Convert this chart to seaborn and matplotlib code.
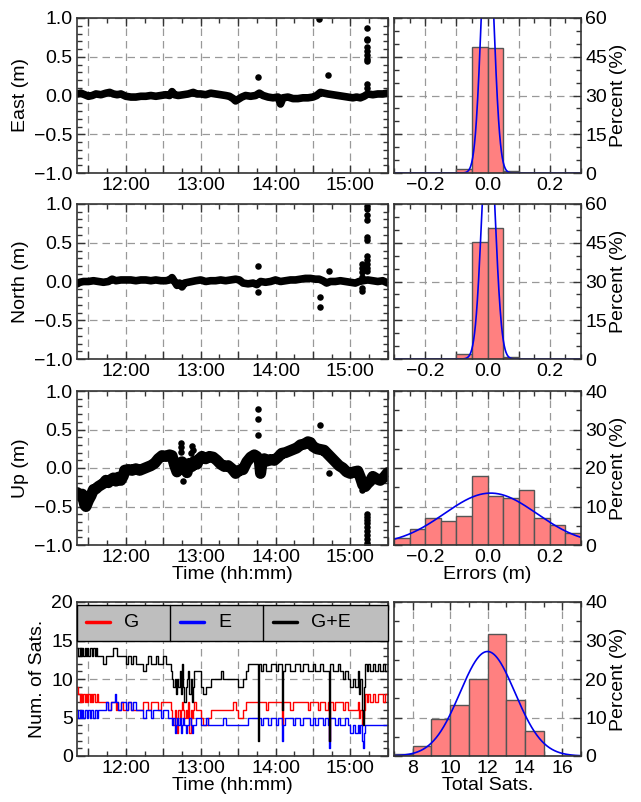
import numpy as np
import matplotlib
matplotlib.use("Agg")
import matplotlib.pyplot as plt
import matplotlib.ticker as mticker
import matplotlib.transforms as mtransforms
from matplotlib.patches import Rectangle
import seaborn as sns

# ---- position errors (time in minutes after 11:00, value in m) ----
east_t = [21, 24, 27, 30, 33, 36, 40, 44, 47, 50,
          53, 56, 60, 64, 68, 72, 76, 80, 84, 88,
          92, 95, 97, 99, 102, 106, 110, 114, 117, 120,
          124, 128, 132, 136, 140, 143, 146, 148, 150, 153,
          156, 160, 164, 167, 170, 174, 178, 182, 184, 186,
          190, 194, 198, 202, 206, 210, 213, 216, 219, 222,
          226, 230, 234, 238, 242, 245, 248, 251, 254, 258,
          262, 266, 270]
east_v = [0.02, 0.03, 0.01, -0.01, 0.0, 0.02, 0.01, 0.03, 0.04, 0.02,
          0.01, 0.02, -0.01, -0.02, -0.02, -0.01, -0.01, 0.0, -0.01, 0.0,
          0.01, 0.0, 0.05, 0.01, 0.0, 0.01, 0.02, 0.04, 0.02, 0.02,
          0.01, 0.03, 0.02, 0.01, 0.0, -0.01, -0.04, -0.07, -0.05, -0.02,
          0.0, -0.01, 0.0, 0.03, 0.0, -0.02, -0.03, -0.02, -0.11, -0.03,
          -0.02, -0.04, -0.04, -0.03, -0.03, -0.02, 0.0, 0.04, 0.03, 0.02,
          0.01, 0.0, -0.01, -0.02, -0.03, -0.02, -0.03, -0.01, 0.02, 0.01,
          0.02, 0.02, 0.03]
east_out_t = [166, 215, 222, 253, 253, 253, 253, 253, 253, 253, 253, 253, 253]
east_out_v = [0.245, 0.99, 0.26, 0.87, 0.73, 0.71, 0.62, 0.57, 0.52, 0.47, 0.44, 0.15, 0.10]

north_t = [21, 23, 26, 30, 34, 38, 42, 46, 49, 52,
           56, 60, 64, 68, 72, 76, 80, 84, 88, 92,
           95, 97, 99, 101, 103, 105, 107, 110, 113, 116,
           120, 124, 128, 132, 136, 140, 144, 148, 151, 154,
           158, 162, 165, 168, 172, 176, 180, 184, 188, 192,
           196, 200, 204, 208, 212, 215, 218, 221, 224, 228,
           232, 236, 240, 244, 247, 250, 254, 258, 262, 266,
           270]
north_v = [-0.03, -0.01, 0.0, 0.0, 0.01, 0.0, -0.01, 0.0, 0.03, 0.01,
           0.02, 0.02, 0.02, 0.01, 0.02, 0.02, 0.01, 0.02, 0.01, 0.01,
           0.02, 0.05, 0.0, -0.05, -0.02, -0.07, -0.02, -0.01, 0.0, 0.01,
           0.02, 0.0, 0.01, 0.01, 0.02, 0.01, 0.02, 0.03, 0.02, -0.02,
           -0.03, -0.02, -0.04, 0.0, -0.01, 0.0, 0.02, 0.0, 0.01, 0.02,
           0.02, 0.03, 0.04, 0.04, 0.03, 0.03, 0.01, -0.02, 0.0, 0.0,
           0.01, 0.0, -0.01, -0.02, 0.0, 0.01, 0.02, 0.01, 0.0, 0.01,
           -0.02]
north_out_t = [166, 166, 216, 216, 223, 249, 249, 249, 249, 249, 249,
               253, 253, 253, 253, 253, 253, 253, 253, 253, 253, 253]
north_out_v = [0.20, -0.14, -0.20, -0.33, 0.14, 0.23, 0.18, 0.12, 0.06, -0.08, -0.12,
               0.97, 0.94, 0.86, 0.79, 0.58, 0.54, 0.33, 0.28, 0.22, 0.17, 0.13]

up_t = [21, 23, 25, 27, 28, 30, 32, 34, 36, 38,
        40, 42, 44, 46, 48, 50, 52, 54, 56, 58,
        59, 62, 65, 68, 71, 74, 77, 80, 83, 86,
        89, 92, 95, 97, 99, 101, 103, 105, 107, 109,
        111, 113, 115, 117, 119, 121, 124, 127, 130, 133,
        136, 139, 142, 145, 148, 151, 154, 157, 160, 163,
        165, 167, 168, 169, 171, 173, 176, 179, 182, 185,
        188, 191, 194, 197, 200, 203, 206, 208, 210, 213,
        216, 219, 222, 225, 228, 231, 234, 237, 240, 243,
        246, 248, 250, 252, 254, 256, 258, 261, 264, 267,
        270]
up_v = [-0.32, -0.36, -0.34, -0.48, -0.50, -0.42, -0.36, -0.28, -0.27, -0.24,
        -0.22, -0.20, -0.16, -0.19, -0.15, -0.13, -0.17, -0.12, -0.16, -0.10,
        -0.03, -0.02, -0.03, -0.01, -0.03, -0.01, 0.01, 0.03, 0.06, 0.12,
        0.16, 0.15, 0.17, 0.16, 0.04, -0.05, 0.02, 0.08, 0.0, -0.06,
        0.06, 0.02, 0.09, 0.05, 0.12, 0.15, 0.12, 0.15, 0.14, 0.10,
        0.05, 0.02, 0.03, -0.01, -0.07, -0.03, -0.02, 0.08, 0.14, 0.17,
        0.15, 0.10, -0.07, 0.05, 0.12, 0.09, 0.11, 0.10, 0.14, 0.19,
        0.20, 0.22, 0.24, 0.26, 0.30, 0.31, 0.34, 0.33, 0.28, 0.25,
        0.24, 0.23, 0.18, 0.13, 0.08, 0.03, 0.0, -0.05, -0.07, -0.05,
        -0.04, -0.12, -0.22, -0.24, -0.20, -0.17, -0.11, -0.14, -0.16, -0.12,
        -0.06]
up_out_t = [104, 104, 104.5, 106, 113, 113.5, 112.5, 166, 166, 166, 216, 223, 249,
            253, 253, 253, 253, 253, 253, 253, 253, 253, 253]
up_out_v = [0.32, 0.27, 0.21, -0.17, 0.28, 0.24, 0.20, 0.76, 0.63, 0.43, 0.56, -0.06, -0.28,
            -0.60, -0.64, -0.68, -0.72, -0.77, -0.82, -0.87, -0.92, -0.97, -1.0]

# ---- number of satellites ----
sat_t = [21, 22, 23, 24, 25, 26, 27, 28, 29, 30,
         31, 32, 33, 34, 35, 36, 37, 38, 40, 42,
         44, 46, 48, 50, 51, 52, 53, 54, 56, 58,
         60, 62, 64, 66, 68, 70, 72, 74, 76, 78,
         80, 82, 84, 86, 88, 90, 92, 94, 96, 97,
         98, 99, 100, 101, 102, 103, 104, 105, 106, 107,
         108, 109, 110, 111, 112, 113, 114, 115, 116, 118,
         120, 122, 124, 126, 128, 130, 132, 134, 136, 138,
         140, 142, 144, 146, 148, 150, 152, 154, 156, 158,
         160, 162, 164, 166, 167, 168, 170, 172, 174, 176,
         178, 180, 182, 184, 185, 186, 188, 190, 192, 194,
         196, 198, 200, 202, 204, 206, 208, 210, 212, 214,
         216, 218, 220, 222, 223, 224,
         226, 228, 230, 232, 234, 236, 238, 240, 242, 244, 246,
         247, 248, 249, 250, 251, 252, 253, 254,
         256, 258, 260, 262, 264, 266, 268, 270]
sat_g = [9, 8, 7, 8, 7, 8, 7, 8, 7, 8,
         7, 8, 7, 8, 7, 7, 8, 7, 7, 7,
         7, 6, 7, 7, 7, 6, 7, 6, 7, 6,
         6, 7, 6, 6, 6, 6, 6, 7, 7, 6,
         7, 7, 7, 6, 7, 7, 7, 7, 6, 5,
         4, 6, 5, 3, 6, 5, 6, 7, 6, 5,
         6, 5, 7, 3, 6, 5, 6, 7, 6, 6,
         5, 4, 4, 5, 6, 6, 6, 6, 6, 6,
         6, 6, 6, 7, 6, 5, 5, 6, 7, 7,
         7, 7, 7, 7, 7, 7, 7, 6, 7, 7,
         7, 7, 7, 7, 4, 7, 7, 7, 6, 7,
         7, 7, 7, 7, 7, 6, 7, 7, 7, 6,
         7, 7, 6, 7, 2, 7,
         6, 7, 7, 7, 6, 7, 6, 6, 6, 6, 7,
         5, 6, 4, 5, 6, 8, 7, 8,
         7, 8, 7, 8, 8, 7, 8, 8]
sat_e = [6, 5, 6, 5, 6, 5, 6, 6, 5, 6,
         5, 6, 6, 5, 6, 6, 5, 6, 6, 6,
         7, 6, 7, 7, 8, 7, 7, 6, 7, 7,
         6, 7, 6, 7, 6, 6, 6, 5, 6, 6,
         5, 6, 6, 6, 5, 6, 6, 5, 5, 4,
         5, 3, 4, 5, 4, 5, 3, 4, 5, 4,
         3, 4, 4, 5, 4, 3, 4, 4, 5, 5,
         4, 4, 5, 4, 4, 4, 4, 4, 4, 5,
         4, 4, 4, 4, 4, 4, 4, 4, 4, 5,
         5, 5, 5, 5, 5, 4, 5, 5, 4, 5,
         5, 4, 5, 5, 2, 4, 5, 5, 5, 4,
         5, 5, 4, 5, 5, 5, 4, 5, 4, 5,
         5, 4, 5, 4, 1, 5,
         5, 4, 5, 4, 4, 5, 4, 3, 4, 3, 4,
         3, 4, 2, 1, 3, 4, 4, 4,
         4, 4, 4, 4, 4, 4, 4, 4]
sat_ge = [14, 13, 14, 13, 14, 13, 14, 13, 14, 13,
          14, 14, 13, 14, 13, 14, 13, 13, 13, 12,
          13, 13, 13, 14, 14, 14, 13, 13, 13, 13,
          12, 13, 12, 13, 12, 12, 12, 11, 12, 13,
          12, 12, 13, 12, 12, 13, 12, 12, 11, 10,
          9, 10, 8, 10, 9, 11, 8, 12, 9, 7,
          9, 10, 11, 8, 10, 7, 9, 11, 11, 11,
          9, 8, 9, 9, 10, 10, 10, 10, 11, 10,
          10, 10, 10, 10, 10, 9, 9, 10, 11, 12,
          12, 12, 12, 2, 12, 11, 12, 11, 11, 12,
          12, 11, 12, 12, 6, 11, 12, 12, 11, 11,
          12, 12, 11, 12, 12, 11, 11, 12, 11, 11,
          12, 11, 11, 11, 2, 12,
          11, 11, 12, 11, 10, 11, 10, 9, 10, 9, 11,
          8, 10, 6, 4, 9, 12, 11, 12,
          11, 12, 11, 12, 11, 12, 11, 12]

# ---- histograms (percent per bin) and normal fits ----
err_edges = [-0.3, -0.25, -0.2, -0.15, -0.1, -0.05, 0.0, 0.05, 0.1, 0.15, 0.2, 0.25, 0.3]
east_pct = [0, 0, 0, 0, 1.5, 48.6, 48.4, 0.8, 0, 0, 0, 0]
north_pct = [0, 0, 0, 0, 1.9, 45.1, 50.8, 0.9, 0, 0, 0, 0]
up_pct = [1.7, 4.1, 7.1, 6.3, 7.6, 18.0, 12.6, 12.3, 14.3, 7.1, 5.2, 3.0]
sat_edges = [7, 8, 9, 10, 11, 12, 13, 14, 15, 16, 17]
sat_pct = [0.4, 2.6, 9.5, 13.2, 20.0, 31.8, 14.5, 6.4, 0, 0]
# (mean, sigma) of the fitted normal curves
east_fit = (0.0, 0.020)
north_fit = (0.003, 0.021)
up_fit = (0.01, 0.148)
sat_fit = (12.0, 1.47)

sns.set_theme(style="white")
plt.rcParams['font.family'] = ['Liberation Sans', 'DejaVu Sans']
plt.rcParams['font.size'] = 14
plt.rcParams['text.color'] = 'black'
plt.rcParams['axes.unicode_minus'] = True

SPINE = '#333333'
GRID = dict(color='#999999', linestyle=(0, (6, 4)), linewidth=0.9)
BAR = '#ff8080'
FS = 14

fig = plt.figure(figsize=(6.41, 8.02), dpi=100)
W, H = 641.0, 802.0


def px_axes(x0, y0, x1, y1):
    return fig.add_axes([x0 / W, 1 - y1 / H, (x1 - x0) / W, (y1 - y0) / H])


def minus(fmt):
    return mticker.FuncFormatter(lambda v, _: (fmt % v).replace('-', '\u2212'))


def frame(ax):
    for s in ax.spines.values():
        s.set_color(SPINE)
        s.set_linewidth(1.2)
        s.set_visible(True)
    ax.tick_params(which='both', direction='in', top=True, bottom=True,
                   left=True, right=True, color=SPINE, labelsize=FS, pad=3,
                   labelcolor='black')
    ax.tick_params(which='major', length=6, width=1)
    ax.tick_params(which='minor', length=3.5, width=1)
    ax.set_axisbelow(True)
    ax.grid(True, which='major', **GRID)


def time_axis(ax, xlabel=None):
    ax.set_xlim(20.8, 270.2)
    ax.xaxis.set_major_locator(mticker.MultipleLocator(30))
    ax.xaxis.set_minor_locator(mticker.MultipleLocator(15))
    ax.xaxis.set_major_formatter(mticker.FuncFormatter(
        lambda m, _: f"{11 + int(round(m) // 60)}:{int(round(m) % 60):02d}" if round(m) % 60 == 0 else ""))
    ax.set_xlabel(xlabel if xlabel else "", labelpad=0, fontsize=FS, color='black')


def hist_panel(ax, edges, pct, fit, bw, ymax, ystep, xlabel=None, sats=False):
    centers = [(edges[i] + edges[i + 1]) / 2 for i in range(len(pct))]
    sns.histplot(x=centers, weights=pct, bins=edges, ax=ax, color=BAR,
                 edgecolor='#555555', linewidth=1, alpha=1)
    mu, sd = fit
    xs = np.linspace(edges[0], edges[-1], 600)
    ys = 100 * bw / (sd * np.sqrt(2 * np.pi)) * np.exp(-0.5 * ((xs - mu) / sd) ** 2)
    sns.lineplot(x=xs, y=ys, ax=ax, color='#0000ee', linewidth=1.2)
    frame(ax)
    ax.set_xlim(edges[0], edges[-1])
    ax.set_ylim(0, ymax)
    ax.yaxis.set_major_locator(mticker.MultipleLocator(ystep))
    ax.yaxis.set_minor_locator(mticker.MultipleLocator(5))
    ax.tick_params(labelleft=False, labelright=True)
    ax.yaxis.set_label_position('right')
    ax.set_ylabel("Percent (%)", labelpad=2, fontsize=FS, color='black')
    if sats:
        ax.xaxis.set_major_locator(mticker.FixedLocator([8, 10, 12, 14, 16]))
        ax.xaxis.set_minor_locator(mticker.MultipleLocator(1))
    else:
        ax.xaxis.set_major_locator(mticker.FixedLocator([-0.2, -0.1, 0.0, 0.1, 0.2]))
        ax.xaxis.set_major_formatter(mticker.FixedFormatter(['\u22120.2', '', '0.0', '', '0.2']))
        ax.xaxis.set_minor_locator(mticker.MultipleLocator(0.05))
    ax.set_xlabel(xlabel if xlabel else "", labelpad=0, fontsize=FS, color='black')


def error_panel(ax, t, v, ot, ov, label, band, xlabel=None):
    sns.lineplot(x=t, y=v, ax=ax, color='black', linewidth=band, estimator=None,
                 sort=False, solid_capstyle='round', solid_joinstyle='round')
    sns.scatterplot(x=ot, y=ov, ax=ax, color='black', s=22, linewidth=0)
    frame(ax)
    time_axis(ax, xlabel)
    ax.set_ylim(-1, 1)
    ax.yaxis.set_major_locator(mticker.MultipleLocator(0.5))
    ax.yaxis.set_minor_locator(mticker.MultipleLocator(0.1))
    ax.yaxis.set_major_formatter(minus('%.1f'))
    ax.set_ylabel(label, labelpad=4, fontsize=FS, color='black')


rows = [(18, 173), (204, 359), (391, 545)]
series = [(east_t, east_v, east_out_t, east_out_v, "East (m)", 5.5, east_pct, east_fit, 60, 15),
          (north_t, north_v, north_out_t, north_out_v, "North (m)", 5.5, north_pct, north_fit, 60, 15),
          (up_t, up_v, up_out_t, up_out_v, "Up (m)", 8, up_pct, up_fit, 40, 10)]

for i, ((y0, y1), s) in enumerate(zip(rows, series)):
    t, v, ot, ov, lab, band, pct, fit, ymax, ystep = s
    last = i == 2
    axl = px_axes(77, y0, 388, y1)
    error_panel(axl, t, v, ot, ov, lab, band, "Time (hh:mm)" if last else None)
    axr = px_axes(394, y0, 581, y1)
    hist_panel(axr, err_edges, pct, fit, 0.05, ymax, ystep, "Errors (m)" if last else None)

# ---- satellites panel ----
axs = px_axes(77, 602, 388, 756)
sns.lineplot(x=sat_t, y=sat_g, ax=axs, color='red', linewidth=1, drawstyle='steps-post', estimator=None, sort=False)
sns.lineplot(x=sat_t, y=sat_e, ax=axs, color='blue', linewidth=1, drawstyle='steps-post', estimator=None, sort=False)
sns.lineplot(x=sat_t, y=sat_ge, ax=axs, color='black', linewidth=1, drawstyle='steps-post', estimator=None, sort=False)
frame(axs)
time_axis(axs, "Time (hh:mm)")
axs.set_ylim(0, 20)
axs.yaxis.set_major_locator(mticker.MultipleLocator(5))
axs.yaxis.set_minor_locator(mticker.MultipleLocator(1))
axs.set_ylabel("Num. of Sats.", labelpad=4, fontsize=FS, color='black')

# legend strip across the top of the satellites panel
blend = mtransforms.blended_transform_factory(axs.transAxes, axs.transData)
axs.add_patch(Rectangle((0, 15), 1, 4.6, transform=blend, facecolor='#bebebe',
                        edgecolor='black', linewidth=1, zorder=3, clip_on=False))
for xd in (0.299, 0.598):
    axs.plot([xd, xd], [15, 19.6], transform=blend, color='black', lw=1, zorder=4)
for x0, col, name in [(0.029, 'red', 'G'), (0.331, 'blue', 'E'), (0.630, 'black', 'G+E')]:
    axs.plot([x0, x0 + 0.077], [17.4, 17.4], transform=blend, color=col, lw=2.5, zorder=4)
    axs.text(x0 + 0.122, 17.4, name, transform=blend, va='center', ha='left',
             fontsize=FS, color='black', zorder=4)

axh = px_axes(394, 602, 581, 756)
hist_panel(axh, sat_edges, sat_pct, sat_fit, 1, 40, 10, "Total Sats.", sats=True)

fig.savefig("out.png", dpi=100)
